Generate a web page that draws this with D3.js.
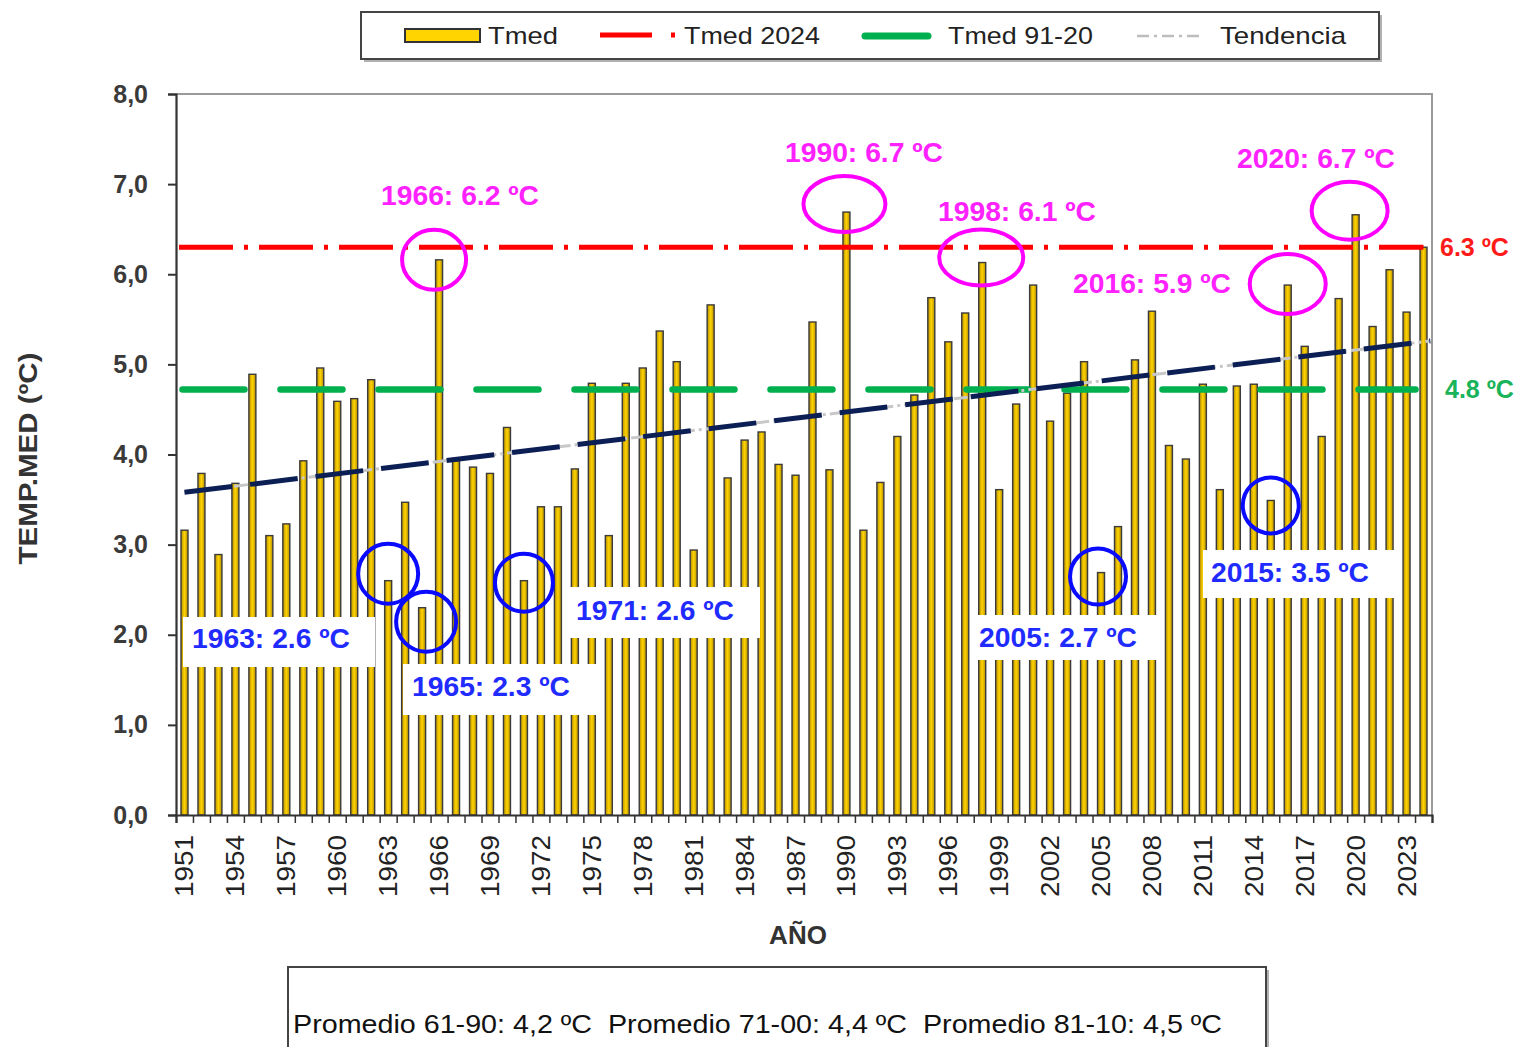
<!DOCTYPE html>
<html><head><meta charset="utf-8">
<script src="https://cdn.jsdelivr.net/npm/d3@7"></script>
<style>
body{margin:0;background:#fff}
text{font-family:"Liberation Sans",Arial,Helvetica,sans-serif}
</style>
</head><body>
<svg id="chart" width="1528" height="1047"></svg>
<script>
// ---------------- DATA ----------------
const years = [1951,1952,1953,1954,1955,1956,1957,1958,1959,1960,1961,1962,1963,1964,1965,1966,1967,1968,1969,1970,
  1971,1972,1973,1974,1975,1976,1977,1978,1979,1980,1981,1982,1983,1984,1985,1986,1987,1988,1989,1990,
  1991,1992,1993,1994,1995,1996,1997,1998,1999,2000,2001,2002,2003,2004,2005,2006,2007,2008,2009,2010,
  2011,2012,2013,2014,2015,2016,2017,2018,2019,2020,2021,2022,2023,2024];
const tmed = [3.16,3.79,2.89,3.68,4.89,3.10,3.23,3.93,4.96,4.59,4.62,4.83,2.60,3.47,2.30,6.16,3.93,3.86,3.79,4.30,
  2.60,3.42,3.42,3.84,4.79,3.10,4.79,4.96,5.37,5.03,2.94,5.66,3.74,4.16,4.25,3.89,3.77,5.47,3.83,6.69,
  3.16,3.69,4.20,4.66,5.74,5.25,5.57,6.13,3.61,4.56,5.88,4.37,4.68,5.03,2.69,3.20,5.05,5.59,4.10,3.95,
  4.78,3.61,4.76,4.78,3.49,5.88,5.20,4.20,5.73,6.66,5.42,6.05,5.58,6.30];
const tmed2024 = 6.3;
const tmed2024Label = "6.3 ºC";
const tmed9120 = 4.72;
const tmed9120Label = "4.8 ºC";
const trendYears = [1951, 2024.4];
const trendValues = [3.58, 5.26];
const yTickValues = [0,1,2,3,4,5,6,7,8];
const xTickLabelYears = [1951,1954,1957,1960,1963,1966,1969,1972,1975,1978,1981,1984,1987,1990,1993,1996,1999,2002,2005,2008,2011,2014,2017,2020,2023];
const highYears = [1966,1990,1998,2016,2020];
const highLabels = ["1966: 6.2 ºC","1990: 6.7 ºC","1998: 6.1 ºC","2016: 5.9 ºC","2020: 6.7 ºC"];
const lowYears = [1963,1965,1971,2005,2015];
const lowLabels = ["1963: 2.6 ºC","1965: 2.3 ºC","1971: 2.6 ºC","2005: 2.7 ºC","2015: 3.5 ºC"];
const legendLabels = ["Tmed","Tmed 2024","Tmed 91-20","Tendencia"];
const footerText = "Promedio 61-90: 4,2 ºC  Promedio 71-00: 4,4 ºC  Promedio 81-10: 4,5 ºC";
const yTitle = "TEMP.MED (ºC)";
const xTitle = "AÑO";

// ---------------- LAYOUT (pixels / styles) ----------------
const L = {left:176, right:1432, top:94, bottom:815};
// ellipse offsets relative to bar top (dy) and radii
const highLayout = [
  {dx:-5, dy:0, rx:32, ry:30, tx:381, ty:205},
  {dx:-2, dy:-8, rx:41, ry:28, tx:785, ty:162},
  {dx:-1, dy:-5, rx:42, ry:28, tx:938, ty:221},
  {dx:0, dy:-1, rx:38, ry:30, tx:1073, ty:293},
  {dx:-6, dy:-4, rx:38, ry:29, tx:1237, ty:168}
];
const lowLayout = [
  {dx:0, dy:-7, r:30, tx:192, ty:648, bx:183, by:617, bw:192, bh:50},
  {dx:4, dy:14, r:30, tx:412, ty:696, bx:403, by:664, bw:194, bh:51},
  {dx:0, dy:2, r:29, tx:576, ty:620, bx:567, by:587, bw:193, bh:51},
  {dx:-3, dy:4, r:28, tx:979, ty:647, bx:972, by:615, bw:185, bh:45},
  {dx:0, dy:5, r:28, tx:1211, ty:582, bx:1203, by:550, bw:192, bh:48}
];

const svg = d3.select("#chart");
const defs = svg.append("defs");
const grad = defs.append("linearGradient").attr("id","barGrad").attr("x1","0").attr("x2","1").attr("y1","0").attr("y2","0");
grad.append("stop").attr("offset","0%").attr("stop-color","#b58e00");
grad.append("stop").attr("offset","50%").attr("stop-color","#ffd400");
grad.append("stop").attr("offset","100%").attr("stop-color","#b58e00");

const x = d3.scaleBand().domain(years).range([L.left, L.right]).paddingInner(0).paddingOuter(0);
const xc = d => x(d) + x.bandwidth()/2;
const xYear = d3.scaleLinear().domain([1950.5, 2024.5]).range([L.left, L.right]);
const y = d3.scaleLinear().domain([0,8]).range([L.bottom, L.top]);
const barW = 7;

// plot frame (top/right gray)
svg.append("path")
  .attr("d", `M${L.left},${L.top}H${L.right}V${L.bottom}`)
  .attr("fill","none").attr("stroke","#9a9a9a").attr("stroke-width",2);

// bars
svg.append("g").selectAll("rect").data(years).join("rect")
  .attr("x", (d) => xc(d) - barW/2)
  .attr("y", (d,i) => y(tmed[i]))
  .attr("width", barW)
  .attr("height", (d,i) => y(0) - y(tmed[i]))
  .attr("fill","url(#barGrad)")
  .attr("stroke","#3b3b3b").attr("stroke-width",1.4);

// Y axis
const yAxis = d3.axisLeft(y).tickValues(yTickValues).tickSize(8).tickPadding(20)
  .tickFormat(d => d3.format(".1f")(d).replace(".", ","));
const gy = svg.append("g").attr("transform",`translate(${L.left},0)`).call(yAxis);
gy.select(".domain").attr("stroke","#333").attr("stroke-width",2.2);
gy.selectAll(".tick line").attr("stroke","#333").attr("stroke-width",2);
gy.selectAll(".tick text").attr("font-size",25).attr("font-weight","bold").attr("fill","#3a3a3a")
  .attr("font-family","'Liberation Sans',Arial,sans-serif");

// X axis (ticks at category boundaries)
const xAxis = d3.axisBottom(xYear).tickValues(years.map(v=>v-0.5).concat([2024.5])).tickSize(8).tickFormat("");
const gx = svg.append("g").attr("transform",`translate(0,${L.bottom})`).call(xAxis);
gx.select(".domain").attr("stroke","#333").attr("stroke-width",2.2);
gx.selectAll(".tick line").attr("stroke","#333").attr("stroke-width",1.5);
svg.append("g").selectAll("text").data(xTickLabelYears).join("text")
  .attr("transform", d => `translate(${xc(d)+9},${L.bottom+20}) rotate(-90)`)
  .attr("text-anchor","end")
  .attr("font-size",25).attr("fill","#222")
  .attr("textLength",62).attr("lengthAdjust","spacingAndGlyphs")
  .text(d => d);

// axis titles
svg.append("text").attr("transform",`translate(37,${(L.top+L.bottom)/2+4}) rotate(-90)`)
  .attr("text-anchor","middle").attr("font-size",26).attr("font-weight","bold").attr("fill","#333")
  .attr("textLength",212).attr("lengthAdjust","spacingAndGlyphs").text(yTitle);
svg.append("text").attr("x",798).attr("y",944).attr("text-anchor","middle")
  .attr("font-size",26).attr("font-weight","bold").attr("fill","#333").text(xTitle);

// low-value label boxes (white, cover bars)
lowYears.forEach((yr,i) => {
  const lo = lowLayout[i];
  svg.append("rect").attr("x",lo.bx).attr("y",lo.by).attr("width",lo.bw).attr("height",lo.bh).attr("fill","#fff");
});

// Tmed 91-20 (green dashes)
svg.append("line").attr("x1", xc(1951)-2).attr("x2", xc(2024)-8)
  .attr("y1", y(tmed9120)).attr("y2", y(tmed9120))
  .attr("stroke","#00b04f").attr("stroke-width",6.5).attr("stroke-linecap","round")
  .attr("stroke-dasharray","62,36");

// Tmed 2024 (red dash-dot)
svg.append("line").attr("x1", L.left+3).attr("x2", xc(2024))
  .attr("y1", y(tmed2024)).attr("y2", y(tmed2024))
  .attr("stroke","#ff0000").attr("stroke-width",5)
  .attr("stroke-dasharray","54,11,4,11");

// trend: gray dash-dot underneath + navy dashes
const trendLine = d3.line().x(d => xYear(d[0])).y(d => y(d[1]));
const trendPts = trendYears.map((t,i) => [t, trendValues[i]]);
svg.append("path").attr("d", trendLine(trendPts)).attr("fill","none")
  .attr("stroke","#c8c8c8").attr("stroke-width",3).attr("stroke-dasharray","14,4,3,4");
svg.append("path").attr("d", trendLine(trendPts)).attr("fill","none")
  .attr("stroke","#0c1f55").attr("stroke-width",5).attr("stroke-dasharray","48,18");

// right-hand labels
svg.append("text").attr("x",1440).attr("y",y(tmed2024)+9).attr("font-size",25).attr("font-weight","bold")
  .attr("fill","#ff1a1a").text(tmed2024Label);
svg.append("text").attr("x",1445).attr("y",y(tmed9120)+8).attr("font-size",25).attr("font-weight","bold")
  .attr("fill","#19b35a").text(tmed9120Label);

// annotations: highs
highYears.forEach((yr,i) => {
  const lo = highLayout[i];
  const v = tmed[years.indexOf(yr)];
  svg.append("ellipse").attr("cx", xc(yr)+lo.dx).attr("cy", y(v)+lo.dy).attr("rx",lo.rx).attr("ry",lo.ry)
    .attr("fill","none").attr("stroke","#ff00ff").attr("stroke-width",4);
  svg.append("text").attr("x",lo.tx).attr("y",lo.ty).attr("font-size",28).attr("font-weight","bold")
    .attr("fill","#ff22ff").attr("textLength",158).attr("lengthAdjust","spacingAndGlyphs").text(highLabels[i]);
});
// annotations: lows
lowYears.forEach((yr,i) => {
  const lo = lowLayout[i];
  const v = tmed[years.indexOf(yr)];
  svg.append("circle").attr("cx", xc(yr)+lo.dx).attr("cy", y(v)+lo.dy).attr("r",lo.r)
    .attr("fill","none").attr("stroke","#0a0aff").attr("stroke-width",4);
  svg.append("text").attr("x",lo.tx).attr("y",lo.ty).attr("font-size",28).attr("font-weight","bold")
    .attr("fill","#1f2bff").attr("textLength",158).attr("lengthAdjust","spacingAndGlyphs").text(lowLabels[i]);
});

// legend
const lg = svg.append("g");
lg.append("rect").attr("x",364).attr("y",15).attr("width",1018).attr("height",47).attr("fill","#b0b0b0");
lg.append("rect").attr("x",361).attr("y",12).attr("width",1018).attr("height",47).attr("fill","#fff")
  .attr("stroke","#444").attr("stroke-width",2);
lg.append("rect").attr("x",405).attr("y",29).attr("width",75).attr("height",13)
  .attr("fill","#ffd400").attr("stroke","#333").attr("stroke-width",2);
lg.append("line").attr("x1",600).attr("x2",652).attr("y1",35).attr("y2",35).attr("stroke","#ff0000").attr("stroke-width",5);
lg.append("line").attr("x1",671).attr("x2",675).attr("y1",35).attr("y2",35).attr("stroke","#ff0000").attr("stroke-width",5);
lg.append("line").attr("x1",865).attr("x2",928).attr("y1",36).attr("y2",36).attr("stroke","#00b04f").attr("stroke-width",7).attr("stroke-linecap","round");
lg.append("line").attr("x1",1137).attr("x2",1202).attr("y1",36).attr("y2",36).attr("stroke","#bdbdbd").attr("stroke-width",2.5).attr("stroke-dasharray","12,5,3,5");
const legendX = [488, 684, 948, 1220];
const legendW = [70, 136, 145, 126];
legendLabels.forEach((t,i) => {
  lg.append("text").attr("x",legendX[i]).attr("y",44).attr("font-size",24).attr("fill","#222")
    .attr("textLength",legendW[i]).attr("lengthAdjust","spacingAndGlyphs").text(t);
});

// footer box
svg.append("rect").attr("x",291).attr("y",970).attr("width",978).attr("height",100).attr("fill","#b0b0b0");
svg.append("rect").attr("x",288).attr("y",967).attr("width",978).attr("height",100).attr("fill","#fff")
  .attr("stroke","#444").attr("stroke-width",2);
svg.append("text").attr("x",293).attr("y",1033).attr("font-size",26).attr("fill","#111")
  .style("white-space","pre").attr("textLength",929).attr("lengthAdjust","spacingAndGlyphs").text(footerText);
</script>
</body></html>
